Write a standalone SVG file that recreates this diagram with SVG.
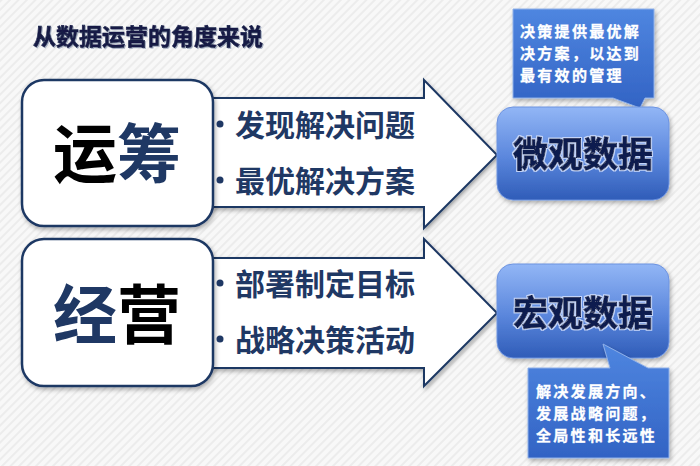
<svg xmlns="http://www.w3.org/2000/svg" width="700" height="466" viewBox="0 0 700 466">
<defs>
  <pattern id="bg" width="6" height="6" patternUnits="userSpaceOnUse" patternTransform="rotate(45)">
    <rect width="6" height="6" fill="#f8f8f8"/>
    <rect width="2" height="6" fill="#ececec"/>
  </pattern>
  <linearGradient id="blue" x1="0" y1="0" x2="0" y2="1">
    <stop offset="0" stop-color="#92b6f6"/>
    <stop offset="0.55" stop-color="#5a86dc"/>
    <stop offset="1" stop-color="#2f5cb8"/>
  </linearGradient>
  <linearGradient id="call" x1="0" y1="0" x2="0" y2="1">
    <stop offset="0" stop-color="#4f86e0"/>
    <stop offset="1" stop-color="#3263c4"/>
  </linearGradient>
  <filter id="sh" x="-10%" y="-10%" width="125%" height="130%">
    <feDropShadow dx="1.5" dy="2.5" stdDeviation="2" flood-color="#000" flood-opacity="0.3"/>
  </filter>
  <filter id="glow" x="-10%" y="-20%" width="120%" height="140%">
    <feMorphology in="SourceAlpha" operator="dilate" radius="1" result="d"/>
    <feFlood flood-color="#dfe8ff" flood-opacity="0.8"/>
    <feComposite in2="d" operator="in" result="g"/>
    <feMerge><feMergeNode in="g"/><feMergeNode in="SourceGraphic"/></feMerge>
  </filter>
  <filter id="tsh">
    <feDropShadow dx="1" dy="1" stdDeviation="0.6" flood-color="#7080a0" flood-opacity="0.6"/>
  </filter>
</defs>
<style>
  .cjk{font-family:"Noto Sans CJK SC","Liberation Sans",sans-serif;font-weight:700}
  .card{fill:#fff;stroke:#1f3864;stroke-width:2.5}
  .arrow{fill:#fff;stroke:#1f3864;stroke-width:2}
  .item{font-size:30px;fill:#1f3864}
  .big{font-size:64px}
  .data{font-size:35px;fill:#0e1f4f;stroke:#0e1f4f;stroke-width:0.9px}
  .note{font-size:15px;fill:#fff;letter-spacing:2.3px;stroke:#fff;stroke-width:0.3px}
  .bl{fill:#1f3864}
</style>
<rect width="700" height="466" fill="url(#bg)"/>

<text class="cjk" x="33" y="45" font-size="23" fill="#141a45" stroke="#141a45" stroke-width="0.6" filter="url(#tsh)">从数据运营的角度来说</text>

<g id="connectors">
  <path class="arrow" filter="url(#sh)" d="M212,98 H424 V80 L497,155 L424,228 V207 H212 Z"/>
  <path class="arrow" filter="url(#sh)" d="M212,258 H424 V239 L497,313 L424,386 V368 H212 Z"/>
</g>

<g id="node-yunchou">
  <rect class="card" filter="url(#sh)" x="22" y="80" width="191" height="146" rx="22"/>
  <text class="cjk big" x="117" y="177" text-anchor="middle"><tspan fill="#000">运</tspan><tspan fill="#1f3864">筹</tspan></text>
</g>
<g id="items-top">
  <circle class="bl" cx="220" cy="124" r="3.5"/>
  <text class="cjk item" x="235" y="136">发现解决问题</text>
  <circle class="bl" cx="220" cy="180" r="3.5"/>
  <text class="cjk item" x="235" y="192">最优解决方案</text>
</g>

<g id="node-jingying">
  <rect class="card" filter="url(#sh)" x="22" y="239" width="191" height="147" rx="22"/>
  <text class="cjk big" x="117" y="338" text-anchor="middle"><tspan fill="#1f3864">经</tspan><tspan fill="#000">营</tspan></text>
</g>
<g id="items-bottom">
  <circle class="bl" cx="220" cy="283" r="3.5"/>
  <text class="cjk item" x="235" y="295">部署制定目标</text>
  <circle class="bl" cx="220" cy="339" r="3.5"/>
  <text class="cjk item" x="235" y="351">战略决策活动</text>
</g>

<g id="callout-top">
  <path fill="url(#call)" stroke="#8fb0e8" stroke-width="1" filter="url(#sh)" d="M513,9 H654 V98 H645 L640,108 L613,98 H513 Z"/>
  <text class="cjk note" x="520" y="37">决策提供最优解</text>
  <text class="cjk note" x="520" y="59">决方案，以达到</text>
  <text class="cjk note" x="520" y="81">最有效的管理</text>
</g>

<g id="node-micro">
  <rect fill="url(#blue)" stroke="#6d93e0" stroke-width="1" filter="url(#sh)" x="497" y="107" width="172" height="93" rx="16"/>
  <text class="cjk data" x="583" y="167" text-anchor="middle" filter="url(#glow)">微观数据</text>
</g>

<g id="node-macro">
  <rect fill="url(#blue)" stroke="#6d93e0" stroke-width="1" filter="url(#sh)" x="497" y="264" width="172" height="94" rx="16"/>
  <text class="cjk data" x="583" y="326" text-anchor="middle" filter="url(#glow)">宏观数据</text>
</g>

<g id="callout-bottom">
  <path fill="url(#call)" stroke="#8fb0e8" stroke-width="1" filter="url(#sh)" d="M528,368 H610 L603,344 L648,368 H669 V458 H528 Z"/>
  <text class="cjk note" x="536" y="397">解决发展方向、</text>
  <text class="cjk note" x="536" y="419">发展战略问题，</text>
  <text class="cjk note" x="536" y="441">全局性和长远性</text>
</g>
</svg>
